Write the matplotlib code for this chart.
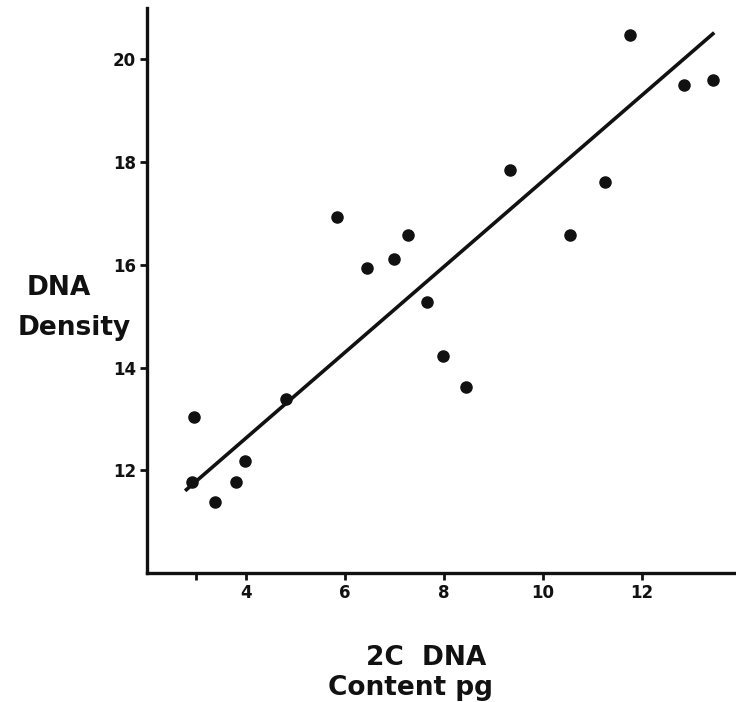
import numpy as np
import matplotlib
matplotlib.use('Agg')
import matplotlib.pyplot as plt

# 2C DNA content (pg) vs DNA density
dna_content = [2.94, 2.90, 3.38, 3.79, 3.99, 4.80, 5.84, 6.44, 7.00, 7.27,
               7.66, 7.98, 8.44, 9.33, 10.55, 11.26, 11.76, 12.85, 13.43]
dna_density = [13.04, 11.78, 11.38, 11.77, 12.18, 13.38, 16.93, 15.93, 16.12, 16.59,
               15.28, 14.22, 13.63, 17.84, 16.59, 17.62, 20.47, 19.50, 19.59]

# fitted line end points
fit_x = [2.77, 13.46]
fit_y = [11.60, 20.52]

x_ticks = [3, 4, 6, 8, 10, 12]
x_tick_labels = ['', '4', '6', '8', '10', '12']
y_ticks = [12, 14, 16, 18, 20]

plt.rcParams['font.family'] = ['DejaVu Sans']

fig = plt.figure(figsize=(7.36, 7.02), dpi=100)
ax = fig.add_axes([0.1997, 0.1838, 0.8003, 0.8048])

ax.scatter(dna_content, dna_density, s=64, color='#111111', zorder=3)
ax.plot(fit_x, fit_y, color='#111111', lw=2.6, solid_capstyle='butt')

ax.set_xlim(2, 13.9)
ax.set_ylim(10, 21)

ax.spines['top'].set_visible(False)
ax.spines['right'].set_visible(False)
for s in ['left', 'bottom']:
    ax.spines[s].set_linewidth(2.4)
    ax.spines[s].set_color('#111111')

ax.set_xticks(x_ticks)
ax.set_xticklabels(x_tick_labels)
ax.set_yticks(y_ticks)
ax.tick_params(axis='both', direction='out', length=5, width=2, color='#111111',
               labelsize=12, pad=3)
for lab in ax.get_xticklabels() + ax.get_yticklabels():
    lab.set_fontweight('bold')
    lab.set_color('#111111')

# axis titles, set as figure text like the original
fig.text(59 / 736, 1 - 288 / 702, 'DNA', ha='center', va='center',
         fontsize=19, fontweight='bold', color='#111111')
fig.text(74 / 736, 1 - 328 / 702, 'Density', ha='center', va='center',
         fontsize=19, fontweight='bold', color='#111111')
fig.text(426 / 736, 1 - 658 / 702, '2C  DNA', ha='center', va='center',
         fontsize=19, fontweight='bold', color='#111111')
fig.text(411 / 736, 1 - 688 / 702, 'Content pg', ha='center', va='center',
         fontsize=19, fontweight='bold', color='#111111')

fig.savefig('out.png', dpi=100)
